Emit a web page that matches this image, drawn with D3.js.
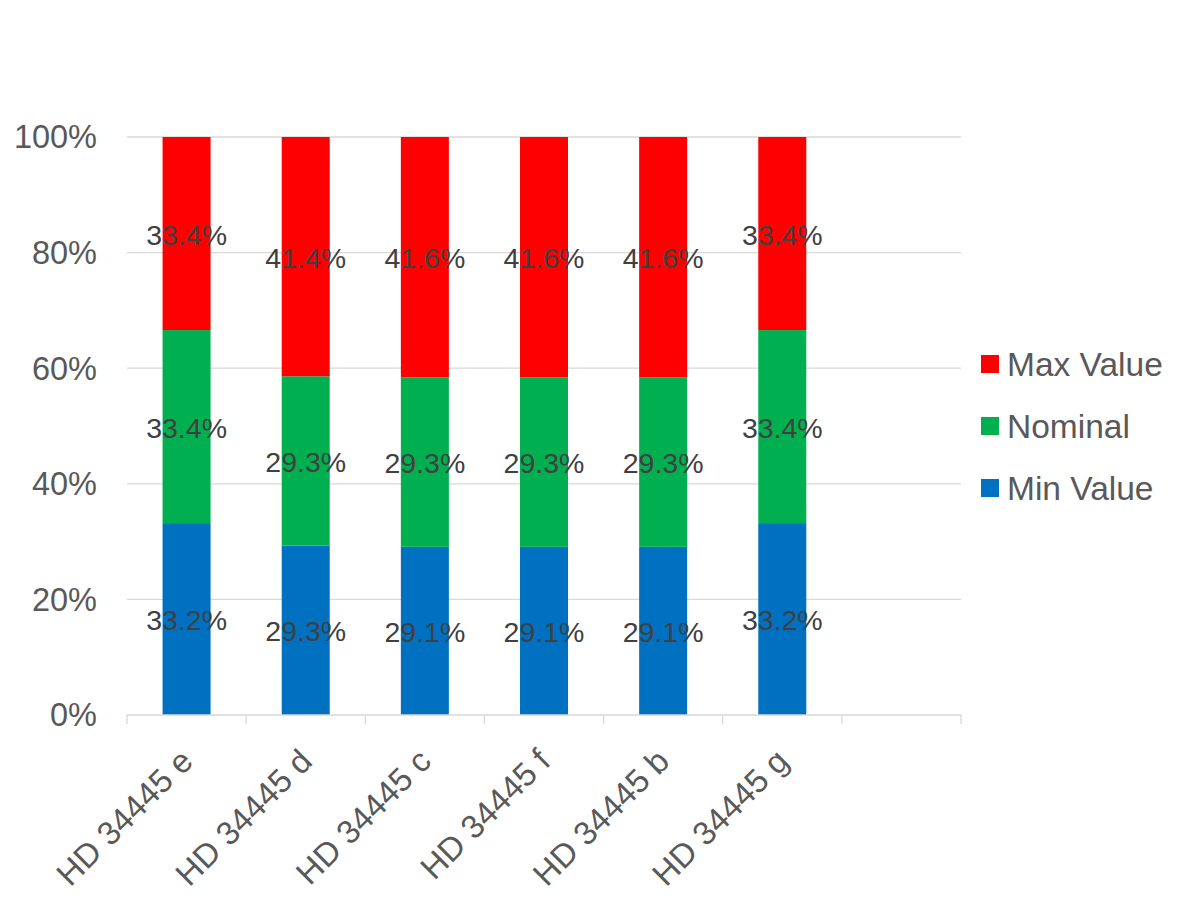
<!DOCTYPE html>
<html>
<head>
<meta charset="utf-8">
<script src="https://cdn.jsdelivr.net/npm/d3@7"></script>
<style>
  body { margin: 0; background: #fff; }
  svg text { font-family: "Liberation Sans", Arial, sans-serif; }
</style>
</head>
<body>
<div id="chart"></div>
<script>
// categories, with an empty slot at the end like the source
var categories = ["HD 34445 e", "HD 34445 d", "HD 34445 c", "HD 34445 f", "HD 34445 b", "HD 34445 g", ""];
var seriesNames = ["Min Value", "Nominal", "Max Value"];
var seriesColors = ["#0070C0", "#00B050", "#FF0000"];
var minValue = [33.2, 29.3, 29.1, 29.1, 29.1, 33.2];
var nominal = [33.4, 29.3, 29.3, 29.3, 29.3, 33.4];
var maxValue = [33.4, 41.4, 41.6, 41.6, 41.6, 33.4];
var yTicks = [0, 0.2, 0.4, 0.6, 0.8, 1];

var Width = 1200, Height = 900;
var plotLeft = 127, plotRight = 961, plotTop = 137, plotBottom = 715;

var svg = d3.select("#chart").append("svg")
    .attr("width", Width)
    .attr("height", Height)
    .style("background-color", "#FFFFFF");

// build rows for the stack
var rows = minValue.map((v, i) => ({
    cat: categories[i],
    "Min Value": v,
    "Nominal": nominal[i],
    "Max Value": maxValue[i]
}));

var stacked = d3.stack().keys(seriesNames).offset(d3.stackOffsetExpand)(rows);

var x = d3.scaleBand()
    .domain(categories.map((c, i) => i))
    .range([plotLeft, plotRight])
    .paddingInner(0)
    .paddingOuter(0);

var y = d3.scaleLinear().domain([0, 1]).range([plotBottom, plotTop]);

var barWidth = 48;

// gridlines
svg.append("g")
    .selectAll("line")
    .data(yTicks.slice(1))
    .enter()
    .append("line")
    .attr("x1", plotLeft)
    .attr("x2", plotRight)
    .attr("y1", d => y(d))
    .attr("y2", d => y(d))
    .attr("stroke", "#D9D9D9")
    .attr("stroke-width", 1.3);

// y labels
svg.append("g")
    .selectAll("text")
    .data(yTicks)
    .enter()
    .append("text")
    .attr("x", 97)
    .attr("y", d => y(d))
    .attr("dy", "0.35em")
    .attr("text-anchor", "end")
    .attr("font-size", 32.5)
    .attr("fill", "#595959")
    .text(d => d3.format(".0%")(d));

// bars
var groups = svg.append("g")
    .selectAll("g")
    .data(stacked)
    .enter()
    .append("g")
    .attr("fill", (d, i) => seriesColors[i]);

groups.selectAll("rect")
    .data(d => d)
    .enter()
    .append("rect")
    .attr("x", (d, i) => x(i) + x.bandwidth() / 2 - barWidth / 2)
    .attr("y", d => y(d[1]))
    .attr("width", barWidth)
    .attr("height", d => y(d[0]) - y(d[1]));

// x axis line + ticks at slot edges
var axisG = svg.append("g");
axisG.append("line")
    .attr("x1", plotLeft).attr("x2", plotRight)
    .attr("y1", plotBottom).attr("y2", plotBottom)
    .attr("stroke", "#D9D9D9")
    .attr("stroke-width", 1.3);
axisG.selectAll("line.tick")
    .data(d3.range(categories.length + 1))
    .enter()
    .append("line")
    .attr("class", "tick")
    .attr("x1", i => plotLeft + i * x.bandwidth())
    .attr("x2", i => plotLeft + i * x.bandwidth())
    .attr("y1", plotBottom)
    .attr("y2", plotBottom + 9)
    .attr("stroke", "#D9D9D9")
    .attr("stroke-width", 1.3);

// data labels
groups.selectAll("text")
    .data(d => d)
    .enter()
    .append("text")
    .attr("x", (d, i) => x(i) + x.bandwidth() / 2)
    .attr("y", d => (y(d[0]) + y(d[1])) / 2 + 1)
    .attr("dy", "0.35em")
    .attr("text-anchor", "middle")
    .attr("font-size", 28.5)
    .attr("fill", "#404040")
    .text(d => d3.format(".1%")(d[1] - d[0]));

// category labels, rotated
svg.append("g")
    .selectAll("text")
    .data(categories)
    .enter()
    .append("text")
    .attr("transform", (d, i) => "translate(" + (x(i) + x.bandwidth() / 2) + "," + 755 + ") rotate(-45)")
    .attr("text-anchor", "end")
    .attr("dy", "0.35em")
    .attr("font-size", 33)
    .attr("fill", "#595959")
    .text(d => d);

// legend, top to bottom: Max, Nominal, Min
var legendOrder = [2, 1, 0];
var legend = svg.append("g")
    .selectAll("g")
    .data(legendOrder)
    .enter()
    .append("g")
    .attr("transform", (d, i) => "translate(981," + (364 + i * 62) + ")");

legend.append("rect")
    .attr("x", 0)
    .attr("y", -9)
    .attr("width", 18)
    .attr("height", 18)
    .attr("fill", d => seriesColors[d]);

legend.append("text")
    .attr("x", 26)
    .attr("y", 0)
    .attr("dy", "0.35em")
    .attr("font-size", 33.5)
    .attr("fill", "#595959")
    .text(d => seriesNames[d]);
</script>
</body>
</html>
